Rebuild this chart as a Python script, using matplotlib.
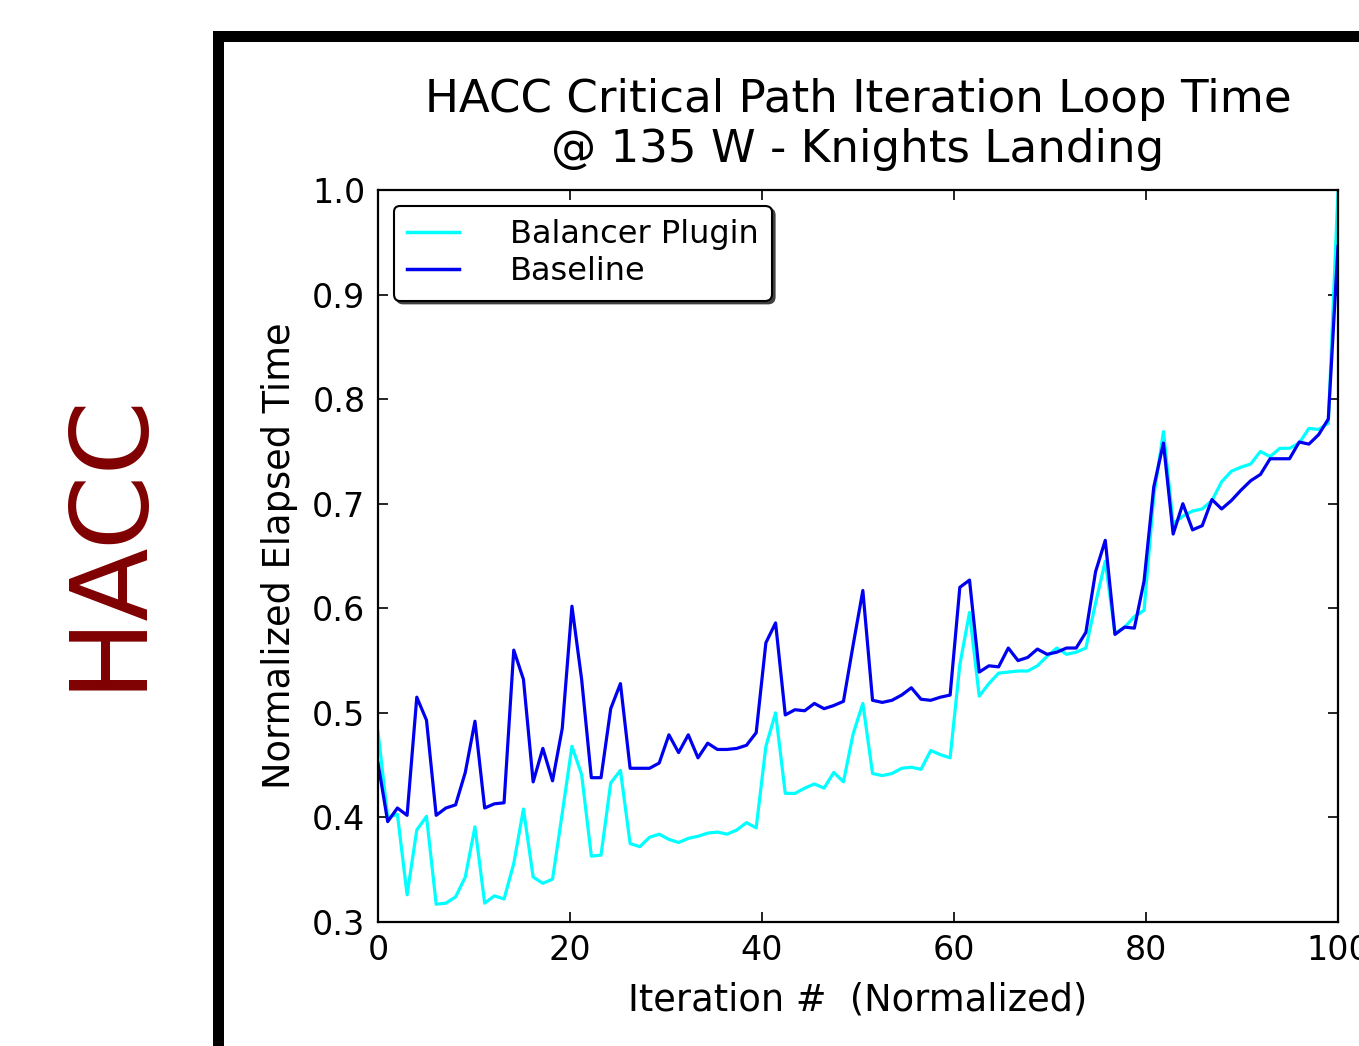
import numpy as np
import matplotlib
matplotlib.use("Agg")
import matplotlib.pyplot as plt
from matplotlib.patches import Rectangle

# ---- data ----
balancer_plugin = [
    0.482, 0.400, 0.403, 0.326, 0.388, 0.401, 0.317, 0.318, 0.324, 0.343,
    0.391, 0.318, 0.325, 0.322, 0.356, 0.408, 0.343, 0.337, 0.341, 0.404,
    0.468, 0.441, 0.363, 0.364, 0.433, 0.445, 0.375, 0.372, 0.381, 0.384,
    0.379, 0.376, 0.380, 0.382, 0.385, 0.386, 0.384, 0.388, 0.395, 0.390,
    0.468, 0.500, 0.423, 0.423, 0.428, 0.432, 0.428, 0.443, 0.434, 0.480,
    0.509, 0.442, 0.440, 0.442, 0.447, 0.448, 0.446, 0.464, 0.460, 0.457,
    0.546, 0.596, 0.516, 0.528, 0.538, 0.539, 0.540, 0.540, 0.545, 0.554,
    0.562, 0.556, 0.558, 0.562, 0.605, 0.645, 0.576, 0.582, 0.592, 0.598,
    0.707, 0.769, 0.681, 0.688, 0.693, 0.695, 0.703, 0.721, 0.731, 0.735,
    0.738, 0.750, 0.745, 0.753, 0.753, 0.758, 0.772, 0.771, 0.777, 1.000,
]
baseline = [
    0.452, 0.396, 0.409, 0.402, 0.515, 0.493, 0.402, 0.409, 0.412, 0.443,
    0.492, 0.409, 0.413, 0.414, 0.560, 0.532, 0.434, 0.466, 0.435, 0.485,
    0.602, 0.532, 0.438, 0.438, 0.504, 0.528, 0.447, 0.447, 0.447, 0.452,
    0.479, 0.462, 0.479, 0.457, 0.471, 0.465, 0.465, 0.466, 0.469, 0.481,
    0.567, 0.586, 0.498, 0.503, 0.502, 0.509, 0.504, 0.507, 0.511, 0.565,
    0.617, 0.512, 0.510, 0.512, 0.517, 0.524, 0.513, 0.512, 0.515, 0.517,
    0.620, 0.627, 0.539, 0.545, 0.544, 0.562, 0.550, 0.553, 0.561, 0.556,
    0.558, 0.562, 0.562, 0.577, 0.635, 0.665, 0.575, 0.582, 0.581, 0.626,
    0.716, 0.758, 0.671, 0.700, 0.675, 0.679, 0.704, 0.695, 0.703, 0.713,
    0.722, 0.728, 0.743, 0.743, 0.743, 0.759, 0.757, 0.766, 0.781, 0.946,
]
series_labels = ["Balancer Plugin", "Baseline"]
x_ticks = [0, 20, 40, 60, 80, 100]
y_ticks = [0.3, 0.4, 0.5, 0.6, 0.7, 0.8, 0.9, 1.0]
title = "HACC Critical Path Iteration Loop Time\n@ 135 W - Knights Landing"
x_label = "Iteration #  (Normalized)"
y_label = "Normalized Elapsed Time"
side_label = "HACC"

plt.rcParams["font.family"] = ["DejaVu Sans"]

W, H = 1359, 1046
fig = plt.figure(figsize=(W / 100, H / 100), dpi=100)
fig.patch.set_facecolor("white")

# slide frame
fig.add_artist(Rectangle((213 / W, 0), 11 / W, (H - 31) / H,
                         transform=fig.transFigure, color="black", lw=0))
fig.add_artist(Rectangle((213 / W, (H - 42) / H), (W - 213) / W, 11 / H,
                         transform=fig.transFigure, color="black", lw=0))

fig.text(108 / W, 1 - 540 / H, side_label, rotation=90, color="#800000",
         fontsize=77, ha="center", va="center")

ax = fig.add_axes([378 / W, 1 - 922 / H, 960 / W, 732 / H])
n = len(baseline)
x = np.linspace(0, 100, n)
ax.plot(x, balancer_plugin, color="#00ffff", lw=2.3, label=series_labels[0])
ax.plot(x, baseline, color="#0000f0", lw=2.3, label=series_labels[1])

ax.set_xlim(0, 100)
ax.set_ylim(0.3, 1.0)
ax.set_xticks(x_ticks)
ax.set_yticks(y_ticks)
ax.set_yticklabels([f"{v:.1f}" for v in y_ticks])
ax.tick_params(direction="in", top=True, right=True, length=7, width=1.2,
               labelsize=24, pad=9)
for s in ax.spines.values():
    s.set_linewidth(1.6)

ax.set_title(title, fontsize=32.5, pad=20, linespacing=1.22)
ax.set_xlabel(x_label, fontsize=26.5, labelpad=10)
ax.set_ylabel(y_label, fontsize=26.5, labelpad=10)

leg = ax.legend(loc="upper left", fontsize=23, fancybox=True,
                shadow={"color": "0.25", "alpha": 1.0},
                borderaxespad=0.5, handlelength=1.6, handletextpad=1.6,
                labelspacing=0.18, borderpad=0.42)
leg.get_frame().set_edgecolor("black")
leg.get_frame().set_linewidth(1.5)
for line in leg.get_lines():
    line.set_linewidth(2.5)

fig.savefig("out.png", dpi=100, facecolor="white")
